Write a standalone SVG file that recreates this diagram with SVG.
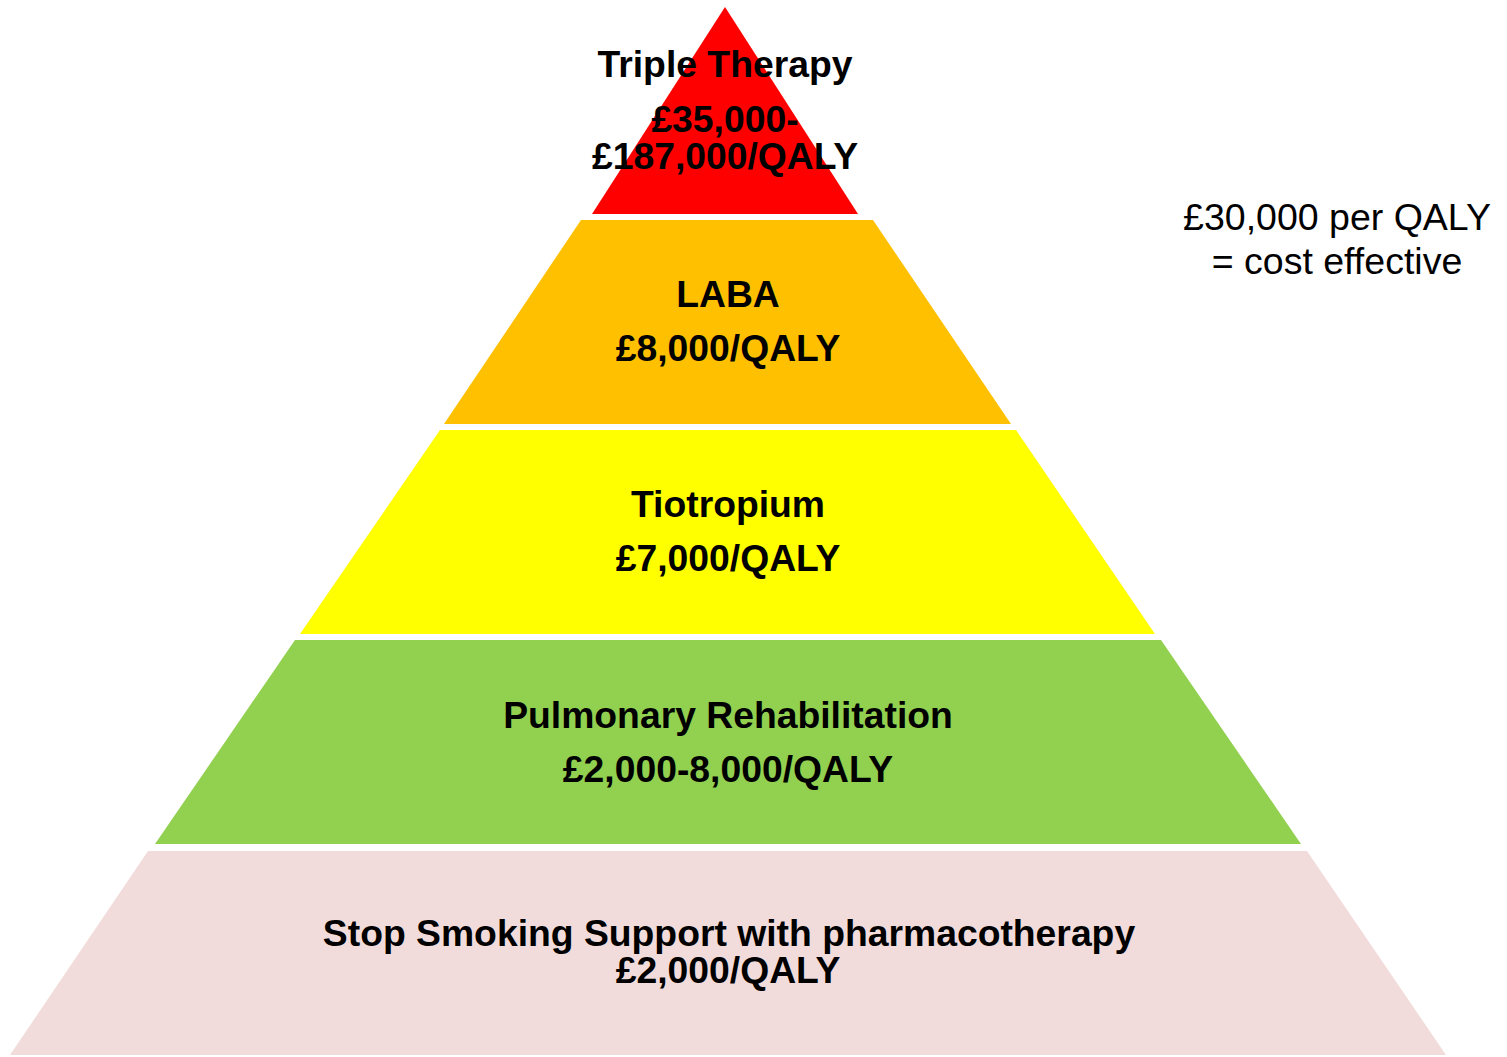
<svg xmlns="http://www.w3.org/2000/svg" width="1507" height="1057" viewBox="0 0 1507 1057">
<style>
.t{font-family:"Liberation Sans",Arial,sans-serif;font-weight:bold;font-size:37.3px;fill:#000;text-anchor:middle}
.n{font-family:"Liberation Sans",Arial,sans-serif;font-size:37.5px;fill:#000;text-anchor:middle}
</style>
<rect width="1507" height="1057" fill="#fff"/>
<g id="triple">
<polygon points="725,7 858,214 592,214" fill="#FF0000"/>
<text class="t" x="725" y="77">Triple Therapy</text>
<text class="t" x="725" y="132">£35,000-</text>
<text class="t" x="725" y="169">£187,000/QALY</text>
</g>
<g id="laba">
<polygon points="581,220 873,220 1011,424 444,424" fill="#FFC000"/>
<text class="t" x="728" y="307">LABA</text>
<text class="t" x="728" y="361">£8,000/QALY</text>
</g>
<g id="tiotropium">
<polygon points="440,430 1016,430 1155,634 300,634" fill="#FFFF00"/>
<text class="t" x="728" y="517">Tiotropium</text>
<text class="t" x="728" y="571">£7,000/QALY</text>
</g>
<g id="rehab">
<polygon points="295,640 1161,640 1301,844 155,844" fill="#92D050"/>
<text class="t" x="728" y="728">Pulmonary Rehabilitation</text>
<text class="t" x="728" y="782">£2,000-8,000/QALY</text>
</g>
<g id="smoking">
<polygon points="148,851 1307,851 1446,1055 10,1055" fill="#F2DCDB"/>
<text class="t" x="729" y="946">Stop Smoking Support with pharmacotherapy</text>
<text class="t" x="728" y="983">£2,000/QALY</text>
</g>
<g id="note">
<text class="n" x="1337" y="230">£30,000 per QALY</text>
<text class="n" x="1337" y="274">= cost effective</text>
</g>
<g id="connectors"/>
</svg>
